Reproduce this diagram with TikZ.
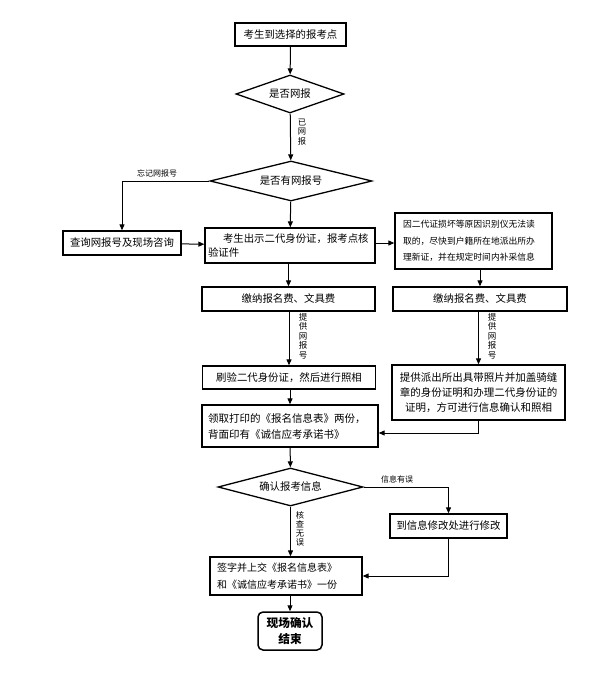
\documentclass[tikz,border=0pt]{standalone}
\usepackage{fontspec}
\setmainfont{Noto Sans CJK SC}
\usetikzlibrary{positioning,calc,arrows.meta,shapes.geometric}

\begin{document}
\begin{tikzpicture}[x=1pt,y=-1pt,
		box/.style={draw,line width=1.3pt,inner sep=0pt,font=\fontsize{10.4}{14}\selectfont},
		choice/.style={draw,line width=1.3pt,diamond,aspect=4,inner sep=0pt,font=\fontsize{10.4}{14}\selectfont},
		finish/.style={draw,line width=1.5pt,rounded corners=5pt,align=center,inner sep=0pt,
			minimum width=64pt,minimum height=38pt,font=\bfseries\fontsize{11.7}{16}\selectfont},
		lab/.style={inner sep=0pt,font=\fontsize{8}{9}\selectfont},
		vlab/.style={lab,align=center,font=\fontsize{8.3}{9.2}\selectfont},
		arr/.style={line width=1pt,-{Triangle[length=6pt,width=5pt]}}]
	\useasboundingbox (0,0) rectangle (600,677);
	
	% 主线
	\node[box,minimum width=111pt,minimum height=23pt] (start) at (290.5,34.5) {考生到选择的报考点};
	\node[choice,minimum width=108pt,minimum height=38pt] (web) at (290,94) {是否网报};
	\node[choice,minimum width=162pt,minimum height=40pt] (num) at (291,181) {是否有网报号};
	\node[box,minimum width=118pt,minimum height=24pt] (query) at (122,243) {查询网报号及现场咨询};
	\node[box,align=left,text width=164pt,inner xsep=3pt,minimum height=35pt,
		font=\fontsize{10.4}{13.5}\selectfont] (show) at (290,245.5)
		{\hspace*{15pt}考生出示二代身份证，报考点核\\验证件};
	\node[box,align=left,text width=141pt,inner xsep=8pt,minimum height=56pt,
		font=\fontsize{8.8}{16.5}\selectfont] (broken) at (473.5,241)
		{因二代证损坏等原因识别仪无法读\\取的，尽快到户籍所在地派出所办\\理新证，并在规定时间内补采信息};
	\node[box,minimum width=173pt,minimum height=24pt] (feeL) at (288.5,299) {缴纳报名费、文具费};
	\node[box,minimum width=174pt,minimum height=24pt] (feeR) at (480,299) {缴纳报名费、文具费};
	\node[box,minimum width=173pt,minimum height=23pt] (scan) at (289,377.5) {刷验二代身份证，然后进行照相};
	\node[box,align=center,minimum width=173pt,minimum height=55pt,
		font=\fontsize{10.5}{15}\selectfont] (prove) at (478.5,392.5)
		{提供派出所出具带照片并加盖骑缝\\章的身份证明和办理二代身份证的\\证明，方可进行信息确认和照相};
	\node[box,align=left,text width=164pt,inner xsep=6pt,minimum height=42pt,
		font=\fontsize{10.5}{16}\selectfont] (print) at (290,426)
		{领取打印的《报名信息表》两份，\\背面印有《诚信应考承诺书》};
	\node[choice,minimum width=145pt,minimum height=38pt] (check) at (290.5,487) {确认报考信息};
	\node[box,minimum width=117pt,minimum height=24pt] (modify) at (448.5,526) {到信息修改处进行修改};
	\node[box,align=left,text width=138pt,inner xsep=7pt,minimum height=38pt,
		font=\fontsize{10}{17}\selectfont] (sign) at (286,576)
		{签字并上交《报名信息表》\\和《诚信应考承诺书》一份};
	\node[finish] (done) at (290,631) {现场确认\\结束};
	
	% 连线
	\draw[arr] (start) -- (web);
	\draw[arr] (web) -- (num);
	\draw[arr] (num.west) -| (query.north);
	\draw[arr] (num) -- (show);
	\draw[arr] (query) -- (show);
	\draw[arr] (show.east |- broken.west) ++(0,2) coordinate (s1) -- (s1 -| broken.west);
	\draw[arr] (show.south -| feeL) -- (feeL.north);
	\draw[arr] (broken.south -| feeR) -- (feeR.north);
	\draw[arr] (feeL.south -| scan) -- (scan.north);
	\draw[arr] (feeR.south -| prove) -- (prove.north);
	\draw[arr] (scan.south -| print) -- (print.north);
	\coordinate (back) at (prove.south |- 0,433);
	\draw[arr] (prove.south) -- (back) -- (back -| print.east);
	\draw[arr] (print) -- (check);
	\draw[arr] (check.east) -| (modify.north);
	\draw[arr] (check.south -| sign.north) ++(4.5,0) coordinate (c1) -- (c1 |- sign.north);
	\draw[arr] (modify.south) |- (sign.east);
	\draw[arr] (sign.south -| done) -- (done.north);
	
	% 标注
	\node[vlab] (lweb) at (302,132) {已\\网\\报};
	\node[lab] (lforget) at (157,173) {忘记网报号};
	\node[vlab,font=\fontsize{8.5}{9.4}\selectfont] (lnumL) at (303,336) {提\\供\\网\\报\\号};
	\node[vlab,font=\fontsize{8.5}{9.4}\selectfont] (lnumR) at (492,336) {提\\供\\网\\报\\号};
	\node[lab] (lerr) at (397,479) {信息有误};
	\node[vlab,font=\fontsize{8.3}{8.8}\selectfont] (lok) at (300,529) {核\\查\\无\\误};
\end{tikzpicture}
\end{document}
